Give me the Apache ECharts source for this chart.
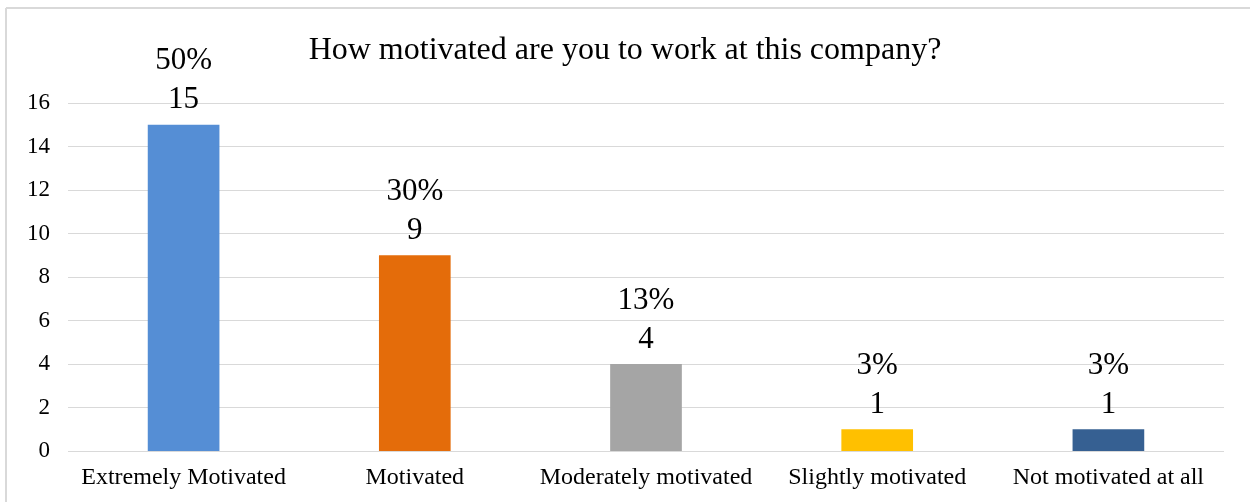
<!DOCTYPE html>
<html>
<head>
<meta charset="utf-8">
<script src="https://cdn.jsdelivr.net/npm/echarts@6/dist/echarts.min.js"></script>
<style>
  html, body { margin: 0; padding: 0; background: #ffffff; }
  #chart { width: 1250px; height: 502px; }
</style>
</head>
<body>
<div id="chart"></div>
<script>
const titleText = 'How motivated are you to work at this company?';
const categories = ['Extremely Motivated', 'Motivated', 'Moderately motivated', 'Slightly motivated', 'Not motivated at all'];
const counts = [15, 9, 4, 1, 1];
const barColors = ['#558ED5', '#E46C0A', '#A5A5A5', '#FFC000', '#366092'];
const yTicks = { min: 0, max: 16, interval: 2 };

const total = counts.reduce((a, b) => a + b, 0);
const serif = '"Liberation Serif", "DejaVu Serif", serif';

const chart = echarts.init(document.getElementById('chart'), null, { renderer: 'canvas' });

chart.setOption({
  backgroundColor: '#ffffff',
  animation: false,
  title: {
    text: titleText,
    left: 'center',
    top: 30,
    textStyle: { fontFamily: serif, fontSize: 32, fontWeight: 'normal', color: '#000000' }
  },
  graphic: [
    { type: 'line', shape: { x1: 6, y1: 8, x2: 1250, y2: 8 }, style: { stroke: '#d9d9d9', lineWidth: 2 } },
    { type: 'line', shape: { x1: 6, y1: 8, x2: 6, y2: 502 }, style: { stroke: '#d9d9d9', lineWidth: 2 } }
  ],
  grid: { left: 68, right: 26, top: 103, bottom: 51 },
  xAxis: {
    type: 'category',
    data: categories,
    axisLine: { show: false },
    axisTick: { show: false },
    axisLabel: { interval: 0, fontFamily: serif, fontSize: 24, color: '#000000', margin: 15 }
  },
  yAxis: {
    type: 'value',
    min: yTicks.min,
    max: yTicks.max,
    interval: yTicks.interval,
    axisLine: { show: false },
    axisTick: { show: false },
    splitLine: { lineStyle: { color: '#d9d9d9', width: 1 } },
    axisLabel: { fontFamily: serif, fontSize: 23, color: '#000000', margin: 18 }
  },
  series: [{
    type: 'bar',
    barWidth: '31%',
    data: counts.map((v, i) => ({ value: v, itemStyle: { color: barColors[i] } })),
    label: {
      show: true,
      position: 'top',
      distance: 5,
      formatter: p => Math.round(p.value / total * 100) + '%\n' + p.value,
      fontFamily: serif,
      fontSize: 31,
      lineHeight: 39,
      color: '#000000'
    }
  }]
});
</script>
</body>
</html>
